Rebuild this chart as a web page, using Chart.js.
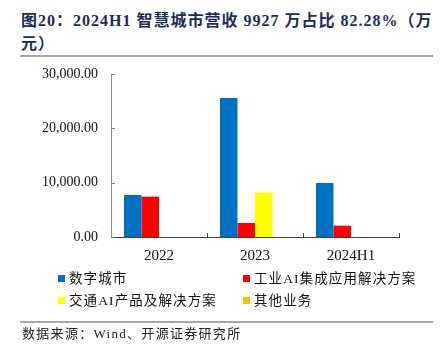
<!DOCTYPE html>
<html>
<head>
<meta charset="utf-8">
<script src="https://cdn.jsdelivr.net/npm/chart.js@4/dist/chart.umd.min.js"></script>
<style>
  body { margin: 0; width: 445px; height: 351px; background: #fff; position: relative; overflow: hidden;
         font-family: "Liberation Serif", "Noto Sans CJK SC", serif; }
  #title { position: absolute; left: 21px; top: 9px; width: 420px; font-size: 16px; font-weight: bold;
           color: #1b2c5c; line-height: 23px; letter-spacing: 1px; white-space: nowrap; }
  .rule { position: absolute; left: 20px; width: 413px; height: 2px; background: #a6a6a6; }
  #wrap { position: absolute; left: 0; top: 60px; width: 445px; height: 210px; }
  #legend { position: absolute; left: 58px; top: 269px; width: 390px; font-size: 13.5px; color: #111; letter-spacing: 1.1px; }
  .item { position: absolute; white-space: nowrap; line-height: 20px; }
  .sw { display: inline-block; width: 7px; height: 7px; margin-right: 4px; vertical-align: 1px; }
  #source { position: absolute; left: 22px; top: 323px; font-size: 13px; color: #222; letter-spacing: 1.3px; }
</style>
</head>
<body>
<div id="title">图20：2024H1 智慧城市营收 9927 万占比 82.28%（万<br>元）</div>
<div class="rule" style="top:55px"></div>
<div id="wrap"><canvas id="myChart" width="445" height="210"></canvas></div>
<div id="legend"></div>
<div class="rule" style="top:321px"></div>
<div id="source">数据来源：Wind、开源证券研究所</div>
<script>
// categories and series (万元)
var categories = ['2022', '2023', '2024H1'];
var seriesNames = ['数字城市', '工业AI集成应用解决方案', '交通AI产品及解决方案', '其他业务'];
var digitalCity = [7730, 25580, 9927];
var industryAI = [7420, 2580, 2080];
var trafficAI = [0, 8150, 0];
var otherBiz = [0, 0, 0];
var yTicks = [0, 10000, 20000, 30000];
var colors = ['#0070c0', '#ff0000', '#ffff00', '#ffc000'];

var seriesData = [digitalCity, industryAI, trafficAI, otherBiz];

// inward tick marks like the original
var innerTicks = {
    id: 'innerTicks',
    afterDraw: function(chart) {
        var c = chart.ctx, a = chart.chartArea;
        var x = chart.scales.x, y = chart.scales.y;
        c.save();
        c.lineWidth = 1;
        c.strokeStyle = '#808080';
        yTicks.forEach(function(v) {
            var py = Math.round(y.getPixelForValue(v)) + 0.5;
            c.beginPath(); c.moveTo(a.left, py); c.lineTo(a.left + 4, py); c.stroke();
        });
        c.strokeStyle = '#404040';
        for (var i = 1; i <= categories.length; i++) {
            var px = Math.round(x.getPixelForTick(i - 1) + (x.getPixelForTick(1) - x.getPixelForTick(0)) / 2) + 0.5;
            c.beginPath(); c.moveTo(px, a.bottom); c.lineTo(px, a.bottom - 4); c.stroke();
        }
        c.restore();
    }
};

var ctx = document.getElementById('myChart').getContext('2d');
var myChart = new Chart(ctx, {
    type: 'bar',
    data: {
        labels: categories,
        datasets: seriesNames.map(function(n, i) {
            return { label: n, data: seriesData[i], backgroundColor: colors[i], borderWidth: 0,
                     categoryPercentage: 0.73, barPercentage: 1.0 };
        })
    },
    options: {
        responsive: false,
        animation: false,
        layout: { padding: { left: 0, right: 46, top: 14, bottom: 0 } },
        plugins: { legend: { display: false }, tooltip: { enabled: false } },
        scales: {
            x: {
                grid: { display: false },
                border: { display: true, color: '#404040', width: 1 },
                ticks: { color: '#111', font: { family: 'Liberation Serif', size: 15 }, padding: 2 },
                afterFit: function(s) { s.height = 33; }
            },
            y: {
                min: 0, max: 30000,
                afterBuildTicks: function(s) { s.ticks = yTicks.map(function(v) { return { value: v }; }); },
                grid: { display: false },
                border: { display: true, color: '#8c8c8c', width: 1 },
                ticks: {
                    color: '#111', font: { family: 'Liberation Serif', size: 14 }, padding: 5,
                    callback: function(v) { return v.toLocaleString('en-US', { minimumFractionDigits: 2, maximumFractionDigits: 2 }); }
                },
                afterFit: function(s) { s.width = 111; }
            }
        }
    },
    plugins: [innerTicks]
});

// two-column legend
var pos = [[0, 0], [185, 0], [0, 22], [185, 22]];
var lg = document.getElementById('legend');
seriesNames.forEach(function(n, i) {
    var d = document.createElement('div');
    d.className = 'item';
    d.style.left = pos[i][0] + 'px';
    d.style.top = pos[i][1] + 'px';
    d.innerHTML = '<span class="sw" style="background:' + colors[i] + '"></span>' + n;
    lg.appendChild(d);
});
</script>
</body>
</html>
